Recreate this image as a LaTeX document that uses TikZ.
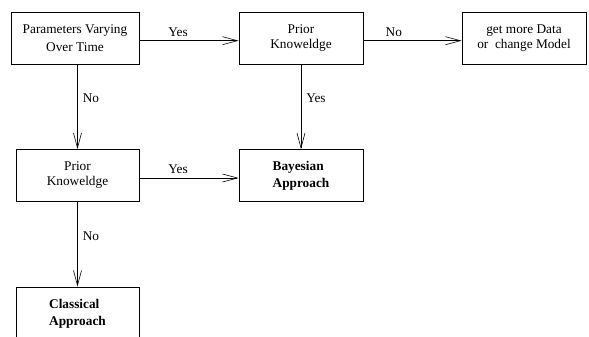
\documentclass[tikz,border=0pt]{standalone}
\usepackage{fontspec}
\setmainfont{Liberation Serif}
\usetikzlibrary{arrows.meta}

\tikzset{
  box/.style={draw, line width=0.7pt, minimum width=123pt, minimum height=52pt,
              inner sep=0pt, align=center},
  result/.style={box, align=left, font=\fontsize{13.3}{17}\selectfont\bfseries},
  flow/.style={line width=0.6pt, -{Straight Barb[length=15pt,width=8pt,line width=0.6pt]}},
  lbl/.style={font=\fontsize{13.3}{15}\selectfont, inner sep=1pt}
}

\begin{document}
\begin{tikzpicture}[x=1pt, y=-1pt, font=\fontsize{13.3}{15}\selectfont]
  \clip (0,0) rectangle (589,337);

  % boxes
  \node[box, minimum width=128pt, font=\fontsize{13.3}{18}\selectfont] (params) at (75,38)
     {Parameters Varying\\Over Time};
  \node[box, minimum width=124pt] (prior1) at (301,38) {Prior\\Knoweldge};
  \node[box, minimum width=124pt] (more) at (524,38) {get more Data\\or\ \ change Model};
  \node[box] (prior2) at (77.5,175.5) {Prior\\Knoweldge};
  \node[result, minimum width=124pt] (bayes) at (301,175.5) {Bayesian\\Approach};
  \node[result, minimum height=53pt] (classic) at (77.5,313.5) {Classical\\Approach};

  % connectors
  \draw[flow] ([yshift=-2.7pt]params.east) -- node[lbl, pos=0.39, above=3pt] {Yes} ([yshift=-2.7pt]prior1.west);
  \draw[flow] ([yshift=-2.7pt]prior1.east) -- node[lbl, pos=0.31, above=3pt] {No} ([yshift=-2.7pt]more.west);
  \draw[flow] (params.south -| prior2.north) -- node[lbl, pos=0.4, right=4pt] {No} (prior2.north);
  \draw[flow] (prior1.south) -- node[lbl, pos=0.4, right=4pt] {Yes} (bayes.north);
  \draw[flow] ([yshift=-2.5pt]prior2.east) -- node[lbl, pos=0.39, above=3pt] {Yes} ([yshift=-2.5pt]bayes.west);
  \draw[flow] (prior2.south) -- node[lbl, pos=0.4, right=4pt] {No} (classic.north);
\end{tikzpicture}
\end{document}
